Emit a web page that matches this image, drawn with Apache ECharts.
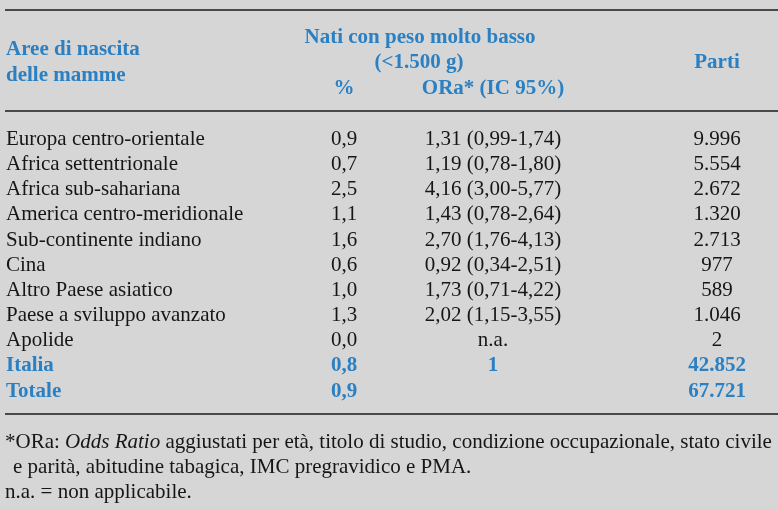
<!DOCTYPE html>
<html>
<head>
<meta charset="utf-8">
<script src="https://cdn.jsdelivr.net/npm/echarts@6/dist/echarts.min.js"></script>
<style>
  html, body { margin: 0; padding: 0; background: #d6d6d6; }
  #chart { width: 778px; height: 509px; }
</style>
</head>
<body>
<div id="chart"></div>
<script>
// table values
const areas = [
  'Europa centro-orientale', 'Africa settentrionale', 'Africa sub-sahariana',
  'America centro-meridionale', 'Sub-continente indiano', 'Cina',
  'Altro Paese asiatico', 'Paese a sviluppo avanzato', 'Apolide', 'Italia', 'Totale'
]
const pctVlbw = [0.9, 0.7, 2.5, 1.1, 1.6, 0.6, 1.0, 1.3, 0.0, 0.8, 0.9]
const orAdj = [1.31, 1.19, 4.16, 1.43, 2.70, 0.92, 1.73, 2.02, null, 1, null]
const orLow = [0.99, 0.78, 3.00, 0.78, 1.76, 0.34, 0.71, 1.15, null, null, null]
const orHigh = [1.74, 1.80, 5.77, 2.64, 4.13, 2.51, 4.22, 3.55, null, null, null]
const parti = [9996, 5554, 2672, 1320, 2713, 977, 589, 1046, 2, 42852, 67721]
const highlightRows = ['Italia', 'Totale']

const BLUE = '#2a80c2'
const INK = '#161616'
const FONT = "'Liberation Serif', 'Times New Roman', serif"

const it = (v, d) => v.toFixed(d).replace('.', ',')
const thousands = v => String(v).replace(/\B(?=(\d{3})+(?!\d))/g, '.')

function orText(i) {
  if (areas[i] === 'Apolide') return 'n.a.'
  if (orAdj[i] === null) return ''
  if (orLow[i] === null) return String(orAdj[i])
  return it(orAdj[i], 2) + ' (' + it(orLow[i], 2) + '-' + it(orHigh[i], 2) + ')'
}

const columns = [
  { x: 6, align: 'left', texts: areas },
  { x: 344, align: 'center', texts: pctVlbw.map(v => it(v, 1)) },
  { x: 493, align: 'center', texts: areas.map((a, i) => orText(i)) },
  { x: 717, align: 'center', texts: parti.map(thousands) }
]

function cellSeries(col) {
  return {
    type: 'custom',
    coordinateSystem: 'cartesian2d',
    silent: true,
    data: areas.map((a, i) => [col.x, i]),
    renderItem: function (params, api) {
      const p = api.coord([api.value(0), api.value(1)])
      const hi = highlightRows.indexOf(areas[params.dataIndex]) >= 0
      return {
        type: 'text',
        x: p[0],
        y: p[1],
        style: {
          text: col.texts[params.dataIndex],
          font: (hi ? 'bold ' : '') + '21px ' + FONT,
          fill: hi ? BLUE : INK,
          align: col.align,
          verticalAlign: 'middle'
        }
      }
    }
  }
}

function head(text, x, y, align) {
  return {
    type: 'text', x: x, y: y, silent: true,
    style: { text: text, font: 'bold 21px ' + FONT, fill: BLUE, align: align, verticalAlign: 'middle' }
  }
}
function rule(y) {
  return { type: 'line', silent: true, shape: { x1: 5, y1: y, x2: 778, y2: y }, style: { stroke: '#1a1a1a', lineWidth: 1.3 } }
}
function note(text, x, y) {
  return {
    type: 'text', x: x, y: y, silent: true,
    style: {
      text: text, font: '21px ' + FONT, fill: INK, align: 'left', verticalAlign: 'middle',
      rich: { i: { fontStyle: 'italic', fontSize: 21, fontFamily: FONT, fill: INK } }
    }
  }
}

const chart = echarts.init(document.getElementById('chart'))
chart.setOption({
  backgroundColor: '#d6d6d6',
  animation: false,
  grid: { left: 0, right: 0, top: 126.6, bottom: 105.2 },
  xAxis: { type: 'value', min: 0, max: 778, show: false },
  yAxis: { type: 'category', data: areas, inverse: true, show: false },
  series: columns.map(cellSeries),
  graphic: [
    rule(10), rule(111), rule(414),
    head('Aree di nascita', 6, 50, 'left'),
    head('delle mamme', 6, 76, 'left'),
    head('Nati con peso molto basso', 420, 38, 'center'),
    head('(<1.500 g)', 419, 63, 'center'),
    head('%', 344, 89, 'center'),
    head('ORa* (IC 95%)', 493, 89, 'center'),
    head('Parti', 717, 63, 'center'),
    note('*ORa: {i|Odds Ratio} aggiustati per età, titolo di studio, condizione occupazionale, stato civile', 5, 442),
    note('e parità, abitudine tabagica, IMC pregravidico e PMA.', 13, 467),
    note('n.a. = non applicabile.', 5, 492)
  ]
})
</script>
</body>
</html>
